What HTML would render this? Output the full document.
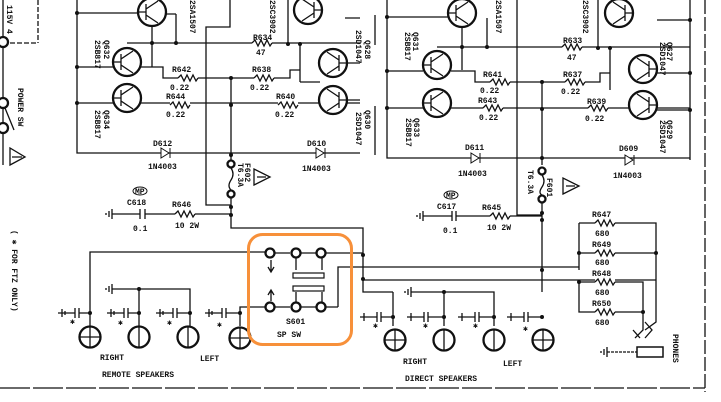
<!DOCTYPE html>
<html><head><meta charset="utf-8"><style>
html,body{margin:0;padding:0;background:#fff;width:721px;height:402px;overflow:hidden}
svg{display:block}
text{font-family:"Liberation Mono",monospace;font-size:8px;font-weight:bold;fill:#111}
.l{stroke:#111;stroke-width:1.3;fill:none}
.c{stroke:#111;stroke-width:2.3;fill:#fff}
.d{fill:#111}
</style></head><body>
<svg width="721" height="402" viewBox="0 0 721 402">
<defs>
<g id="q"><circle r="14" class="c"/><path class="l" stroke-width="1.8" d="M-6,-8 V8 M-6,0 H-14 M-6,-3 L6,-11 M-6,3 L6,11"/></g>
<g id="sp1"><circle r="10.5" class="c"/><path class="l" d="M-10,0 H10 M0,-10 V10" /></g>
<g id="sp2"><circle r="10.5" class="c"/><path class="l" d="M0,-10 V10"/></g>
<g id="gnd"><path class="l" d="M0,-5 V5 M-3,-3 V3 M-6,-1 V1"/></g>
</defs>
<!-- left power -->
<path class="l" d="M3,43 H38 M38,0 V43" stroke-dasharray="5,2"/>
<path class="l" d="M3,0 V165"/>
<circle cx="3" cy="42" r="5" class="c"/><circle cx="3" cy="103" r="5" class="c"/><circle cx="3" cy="128" r="5" class="c"/>
<path class="l" d="M5,108 L14,130"/>
<path class="l" d="M10,165 L25,157 L10,148 Z M12,157 H22"/>
<text transform="translate(7,5) rotate(90)">115V 4</text>
<text transform="translate(18,88) rotate(90)" font-size="9">POWER SW</text>
<text transform="translate(12,230) rotate(90)" font-size="7">( ✱ FOR FTZ ONLY)</text>

<!-- LEFT AMP -->
<path class="l" d="M77,0 V153 H360 M77,13 H138 M77,67 H113 M77,103 H113"/>
<path class="l" d="M127,43 H360 M152,43 V0 M176,14 V43 M152,43 V67 M176,14 H166"/>
<path class="l" d="M141,67 H163 V78 H290 V70 H300 M141,103 H360"/>
<path class="l" d="M230,0 V27 H206 V205 H231 M231,78 V160 M231,190 V228 H363 V292 H393"/>
<path class="l" d="M288,0 V44 M300,44 V82 M300,82 H320 M347,100 H360 M345,63 H360 M345,18 H360"/>
<use href="#q" x="152" y="12"/><use href="#q" x="127" y="62"/><use href="#q" x="127" y="98"/>
<use href="#q" x="308" y="10" transform="scale(-1,1) translate(-616,0)"/>
<use href="#q" x="333" y="63" transform="scale(-1,1) translate(-666,0)"/>
<use href="#q" x="333" y="100" transform="scale(-1,1) translate(-666,0)"/>
<g class="d"><circle cx="77" cy="13" r="2"/><circle cx="77" cy="67" r="2"/><circle cx="77" cy="103" r="2"/><circle cx="152" cy="43" r="2"/><circle cx="176" cy="43" r="2"/><circle cx="288" cy="44" r="2"/><circle cx="300" cy="44" r="2"/><circle cx="231" cy="78" r="2"/><circle cx="231" cy="105" r="2"/><circle cx="231" cy="155" r="2"/><circle cx="231" cy="207" r="2"/><circle cx="231" cy="215" r="2"/></g>
<rect x="252" y="40" width="20" height="6" fill="#fff"/><path class="l" d="M252,43 l3,-3 3,6 3,-6 3,6 3,-6 3,6 2,-3"/>
<rect x="178" y="75" width="20" height="6" fill="#fff"/><path class="l" d="M178,78 l3,-3 3,6 3,-6 3,6 3,-6 3,6 2,-3"/>
<rect x="254" y="75" width="20" height="6" fill="#fff"/><path class="l" d="M254,78 l3,-3 3,6 3,-6 3,6 3,-6 3,6 2,-3"/>
<rect x="170" y="102" width="20" height="6" fill="#fff"/><path class="l" d="M170,105 l3,-3 3,6 3,-6 3,6 3,-6 3,6 2,-3"/>
<rect x="278" y="102" width="20" height="6" fill="#fff"/><path class="l" d="M278,105 l3,-3 3,6 3,-6 3,6 3,-6 3,6 2,-3"/>
<path d="M161,148 L169,153 L161,158 Z M170,148 V158" fill="#fff" stroke="#111"/>
<path d="M316,148 L324,153 L316,158 Z M325,148 V158" fill="#fff" stroke="#111"/>
<rect x="228" y="160" width="6" height="30" fill="#fff"/><circle cx="231" cy="164" r="3.5" class="c" stroke-width="1.5"/><circle cx="231" cy="194" r="3.5" class="c" stroke-width="1.5"/><path class="l" d="M231,168 q4,6 0,12 q-4,6 0,10"/>
<path class="l" d="M254,185 L270,177 L254,169 Z M257,177 H266"/>
<text x="253" y="40">R634</text><text x="256" y="55">47</text>
<text x="172" y="72">R642</text><text x="170" y="90">0.22</text>
<text x="252" y="72">R638</text><text x="250" y="90">0.22</text>
<text x="166" y="99">R644</text><text x="166" y="117">0.22</text>
<text x="276" y="99">R640</text><text x="275" y="117">0.22</text>
<text x="153" y="146">D612</text><text x="148" y="169">1N4003</text>
<text x="307" y="146">D610</text><text x="302" y="171">1N4003</text>
<text transform="translate(238,163) rotate(90)">T6.3A</text><text transform="translate(245,163) rotate(90)">F602</text>
<text transform="translate(104,40) rotate(90)">Q632</text><text transform="translate(95,40) rotate(90)">2SB817</text>
<text transform="translate(104,110) rotate(90)">Q634</text><text transform="translate(95,110) rotate(90)">2SB817</text>
<text transform="translate(190,0) rotate(90)">2SA1507</text>
<text transform="translate(356,30) rotate(90)">2SD1047</text><text transform="translate(356,112) rotate(90)">2SD1047</text>
<text transform="translate(270,0) rotate(90)">2SC3902</text>
<ellipse cx="140" cy="191" rx="7" ry="4" fill="none" stroke="#111"/><text x="135" y="194" font-size="5">MP</text>

<!-- RIGHT AMP -->
<path class="l" d="M387,0 V158 H690 M387,17 H448 M387,71 H423 M387,108 H423"/>
<path class="l" d="M437,47 H690 M462,47 V70 M487,18 V47 M462,47 V0"/>
<path class="l" d="M451,71 H475 V82 H600 V73 H610 M451,108 H690"/>
<path class="l" d="M517,0 V215 H542 M542,82 V165 M542,195 V292"/>
<path class="l" d="M598,0 V48 M610,48 V90 M657,20 H690 M657,73 H690 M657,110 H690"/>
<use href="#q" x="462" y="13"/><use href="#q" x="437" y="65"/><use href="#q" x="437" y="103"/>
<use href="#q" x="619" y="13" transform="scale(-1,1) translate(-1238,0)"/>
<use href="#q" x="643" y="69" transform="scale(-1,1) translate(-1286,0)"/>
<use href="#q" x="643" y="105" transform="scale(-1,1) translate(-1286,0)"/>
<g class="d"><circle cx="387" cy="17" r="2"/><circle cx="387" cy="71" r="2"/><circle cx="387" cy="108" r="2"/><circle cx="462" cy="47" r="2"/><circle cx="487" cy="47" r="2"/><circle cx="598" cy="48" r="2"/><circle cx="610" cy="48" r="2"/><circle cx="542" cy="82" r="2"/><circle cx="542" cy="109" r="2"/><circle cx="542" cy="158" r="2"/><circle cx="542" cy="213" r="2"/><circle cx="542" cy="220" r="2"/><circle cx="690" cy="20" r="2"/><circle cx="690" cy="73" r="2"/><circle cx="690" cy="110" r="2"/></g>
<path class="l" d="M690,0 V160"/>
<rect x="562" y="44" width="20" height="6" fill="#fff"/><path class="l" d="M562,47 l3,-3 3,6 3,-6 3,6 3,-6 3,6 2,-3"/>
<rect x="490" y="79" width="20" height="6" fill="#fff"/><path class="l" d="M490,82 l3,-3 3,6 3,-6 3,6 3,-6 3,6 2,-3"/>
<rect x="565" y="79" width="20" height="6" fill="#fff"/><path class="l" d="M565,82 l3,-3 3,6 3,-6 3,6 3,-6 3,6 2,-3"/>
<rect x="483" y="105" width="20" height="6" fill="#fff"/><path class="l" d="M483,108 l3,-3 3,6 3,-6 3,6 3,-6 3,6 2,-3"/>
<rect x="588" y="105" width="20" height="6" fill="#fff"/><path class="l" d="M588,108 l3,-3 3,6 3,-6 3,6 3,-6 3,6 2,-3"/>
<path d="M471,153 L479,158 L471,163 Z M480,153 V163" fill="#fff" stroke="#111"/>
<path d="M625,155 L633,160 L625,165 Z M634,155 V165" fill="#fff" stroke="#111"/>
<rect x="539" y="165" width="6" height="35" fill="#fff"/><circle cx="542" cy="171" r="3.5" class="c" stroke-width="1.5"/><circle cx="542" cy="199" r="3.5" class="c" stroke-width="1.5"/><path class="l" d="M542,175 q4,6 0,12 q-4,6 0,8"/>
<path class="l" d="M563,194 L579,186 L563,178 Z M566,186 H575"/>
<text x="563" y="43">R633</text><text x="567" y="60">47</text>
<text x="483" y="77">R641</text><text x="480" y="93">0.22</text>
<text x="563" y="77">R637</text><text x="561" y="94">0.22</text>
<text x="478" y="103">R643</text><text x="479" y="120">0.22</text>
<text x="587" y="104">R639</text><text x="585" y="121">0.22</text>
<text x="465" y="150">D611</text><text x="458" y="176">1N4003</text>
<text x="619" y="151">D609</text><text x="613" y="178">1N4003</text>
<text transform="translate(528,170) rotate(90)">T6.3A</text><text transform="translate(547,178) rotate(90)">F601</text>
<text transform="translate(413,32) rotate(90)">Q631</text><text transform="translate(405,32) rotate(90)">2SB817</text>
<text transform="translate(414,118) rotate(90)">Q633</text><text transform="translate(406,118) rotate(90)">2SB817</text>
<text transform="translate(496,0) rotate(90)">2SA1507</text>
<text transform="translate(583,0) rotate(90)">2SC3902</text>
<text transform="translate(667,42) rotate(90)">Q627</text><text transform="translate(660,42) rotate(90)">2SD1047</text>
<text transform="translate(667,120) rotate(90)">Q629</text><text transform="translate(660,120) rotate(90)">2SD1047</text>
<text transform="translate(365,40) rotate(90)">Q628</text><text transform="translate(365,110) rotate(90)">Q630</text>
<path class="l" d="M375,15 V45 M375,106 V155"/>
<ellipse cx="451" cy="195" rx="7" ry="4" fill="none" stroke="#111"/><text x="446" y="198" font-size="5">MP</text>
<path class="l" d="M705,0 V392" stroke-dasharray="14,3"/>

<!-- bottom C/R -->
<use href="#gnd" x="112" y="214"/><path class="l" d="M112,214 H140 M140,209 V219 M145,209 V219 M145,214 H231"/>
<rect x="175" y="211" width="20" height="6" fill="#fff"/><path class="l" d="M175,214 l3,-3 3,6 3,-6 3,6 3,-6 3,6 2,-3"/>
<text x="127" y="205">C618</text><text x="133" y="231">0.1</text><text x="172" y="207">R646</text><text x="175" y="228">10 2W</text>
<use href="#gnd" x="423" y="216"/><path class="l" d="M423,216 H452 M452,211 V221 M456,211 V221 M456,216 H542"/>
<rect x="490" y="213" width="20" height="6" fill="#fff"/><path class="l" d="M490,216 l3,-3 3,6 3,-6 3,6 3,-6 3,6 2,-3"/>
<text x="437" y="209">C617</text><text x="443" y="233">0.1</text><text x="482" y="210">R645</text><text x="487" y="230">10 2W</text>

<!-- switch wiring -->
<path class="l" d="M90,326 V252 H265 M275,253 H290 M301,253 H316 M326,253 H363 M338,307 V267 H579 M363,280 H656 M325,307 H338"/>
<path class="l" d="M240,326 V307 H265 M275,307 H290 M301,307 H316"/>
<circle cx="270" cy="253" r="4.5" class="c" stroke-width="1.6"/><circle cx="296" cy="253" r="4.5" class="c" stroke-width="1.6"/><circle cx="321" cy="253" r="4.5" class="c" stroke-width="1.6"/>
<circle cx="270" cy="307" r="4.5" class="c" stroke-width="1.6"/><circle cx="296" cy="307" r="4.5" class="c" stroke-width="1.6"/><circle cx="321" cy="307" r="4.5" class="c" stroke-width="1.6"/>
<path class="l" d="M271,260 V271 M268,267 L271,272 L274,267 M271,301 V291 M268,295 L271,290 L274,295 M296,258 V270 M322,258 V270 M296,302 V292 M322,302 V292"/>
<rect x="293" y="273" width="31" height="5" fill="#fff" stroke="#111" stroke-width="1.2"/>
<rect x="293" y="286" width="31" height="5" fill="#fff" stroke="#111" stroke-width="1.2"/>
<text x="286" y="324">S601</text><text x="277" y="337" font-size="10">SP  SW</text>
<g class="d"><circle cx="363" cy="255" r="2"/><circle cx="363" cy="279" r="2"/></g>

<!-- remote speakers -->
<use href="#gnd" x="112" y="289"/><path class="l" d="M112,289 H190 V326 M139,289 V326"/>
<g class="l">
<path d="M58,313 H75 M75,308 V318 M79,308 V318 M79,313 H90 M62,309 V317 M65,311 V315"/>
<path d="M107,313 H124 M124,308 V318 M128,308 V318 M128,313 H139 M111,309 V317 M114,311 V315"/>
<path d="M156,313 H173 M173,308 V318 M177,308 V318 M177,313 H190 M160,309 V317 M163,311 V315"/>
<path d="M205,313 H222 M222,308 V318 M226,308 V318 M226,313 H240 M209,309 V317 M212,311 V315"/>
</g>
<g class="d"><circle cx="90" cy="313" r="2"/><circle cx="139" cy="313" r="2"/><circle cx="190" cy="313" r="2"/><circle cx="240" cy="313" r="2"/><circle cx="139" cy="289" r="2"/></g>
<text x="70" y="324" font-size="6">✱</text><text x="118" y="325" font-size="6">✱</text><text x="167" y="325" font-size="6">✱</text><text x="217" y="327" font-size="6">✱</text>
<use href="#sp1" x="90" y="337"/><use href="#sp2" x="139" y="337"/><use href="#sp2" x="188" y="337"/><use href="#sp1" x="240" y="338"/>
<text x="100" y="360" font-size="9">RIGHT</text><text x="200" y="361" font-size="9">LEFT</text>
<text x="102" y="377" font-size="10">REMOTE SPEAKERS</text>

<!-- direct speakers -->
<path class="l" d="M393,292 V326"/>
<use href="#gnd" x="411" y="292"/><path class="l" d="M411,292 H494 V326 M444,292 V326"/>
<g class="l">
<path d="M360,317 H377 M377,312 V322 M381,312 V322 M381,317 H393 M364,313 V321"/>
<path d="M407,317 H424 M424,312 V322 M428,312 V322 M428,317 H444 M411,313 V321"/>
<path d="M458,317 H475 M475,312 V322 M479,312 V322 M479,317 H494 M462,313 V321"/>
<path d="M507,317 H524 M524,312 V322 M528,312 V322 M528,317 H542 M511,313 V321"/>
</g>
<g class="d"><circle cx="393" cy="317" r="2"/><circle cx="444" cy="317" r="2"/><circle cx="494" cy="317" r="2"/><circle cx="542" cy="317" r="2"/><circle cx="444" cy="292" r="2"/><circle cx="542" cy="270" r="2"/></g>
<text x="373" y="328" font-size="6">✱</text><text x="423" y="328" font-size="6">✱</text><text x="473" y="328" font-size="6">✱</text><text x="523" y="331" font-size="6">✱</text>
<use href="#sp1" x="395" y="340"/><use href="#sp2" x="444" y="340"/><use href="#sp2" x="494" y="340"/><use href="#sp1" x="543" y="340"/>
<text x="403" y="364" font-size="9">RIGHT</text><text x="503" y="366" font-size="9">LEFT</text>
<text x="405" y="381" font-size="10">DIRECT SPEAKERS</text>

<!-- phones resistors -->
<path class="l" d="M579,223 V270 M579,223 H656 V253 M579,253 H656 M656,253 V322 L645,330 M579,282 H643 V330 L635,338 M579,282 V312 H643"/>
<g class="d"><circle cx="579" cy="253" r="2"/><circle cx="656" cy="253" r="2"/><circle cx="579" cy="282" r="2"/><circle cx="643" cy="312" r="2"/></g>
<path class="l" d="M645,322 L652,330 L645,338 M633,330 L640,338"/>
<rect x="595" y="220" width="20" height="6" fill="#fff"/><path class="l" d="M595,223 l3,-3 3,6 3,-6 3,6 3,-6 3,6 2,-3"/>
<rect x="595" y="250" width="20" height="6" fill="#fff"/><path class="l" d="M595,253 l3,-3 3,6 3,-6 3,6 3,-6 3,6 2,-3"/>
<rect x="595" y="279" width="20" height="6" fill="#fff"/><path class="l" d="M595,282 l3,-3 3,6 3,-6 3,6 3,-6 3,6 2,-3"/>
<rect x="595" y="309" width="20" height="6" fill="#fff"/><path class="l" d="M595,312 l3,-3 3,6 3,-6 3,6 3,-6 3,6 2,-3"/>
<text x="592" y="217">R647</text><text x="595" y="236">680</text>
<text x="592" y="247">R649</text><text x="595" y="265">680</text>
<text x="592" y="276">R648</text><text x="595" y="295">680</text>
<text x="592" y="306">R650</text><text x="595" y="325">680</text>
<use href="#gnd" x="607" y="352"/><path class="l" d="M607,352 H637" stroke-dasharray="3,1"/>
<rect x="637" y="347" width="26" height="10" fill="#fff" stroke="#111" stroke-width="1.5"/>
<text transform="translate(673,334) rotate(90)" font-size="7">PHONES</text>

<path class="l" d="M0,388 H705" stroke-dasharray="30,3" stroke-width="1.5"/>

<!-- orange highlight -->
<rect x="248.5" y="234.5" width="103" height="110" rx="14" fill="none" stroke="#f7903a" stroke-width="3"/>
</svg>
</body></html>
